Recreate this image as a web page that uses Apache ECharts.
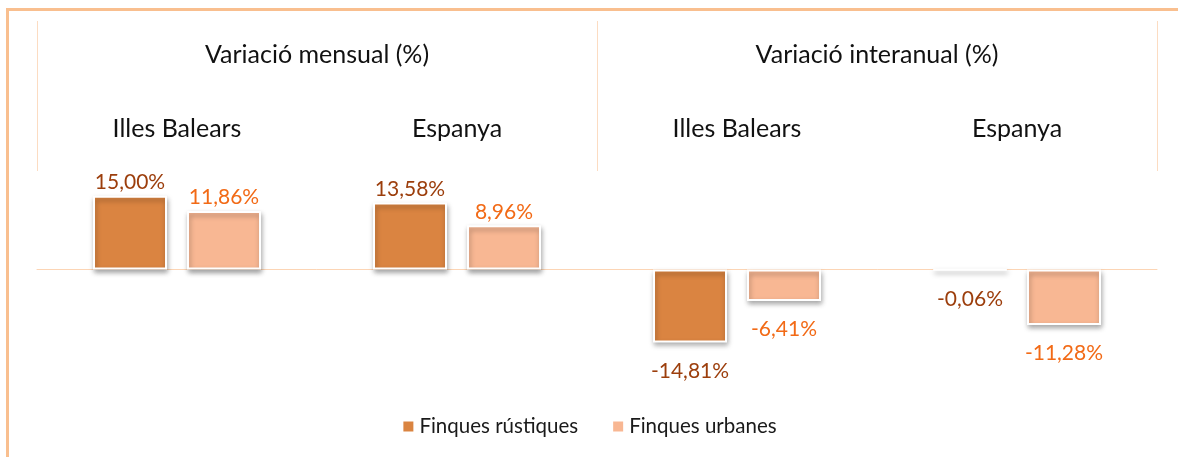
<!DOCTYPE html>
<html>
<head>
<meta charset="utf-8">
<script src="https://cdn.jsdelivr.net/npm/echarts@6/dist/echarts.min.js"></script>
<style>
  html, body { margin: 0; padding: 0; background: #fff; }
  #chart { width: 1178px; height: 457px; }
</style>
</head>
<body>
<div id="chart"></div>
<script>
  // dades
  var regions = ['Illes Balears', 'Espanya', 'Illes Balears', 'Espanya'];
  var periods = ['Variació mensual (%)', 'Variació interanual (%)'];
  var rustiques = [15.00, 13.58, -14.81, -0.06];
  var urbanes = [11.86, 8.96, -6.41, -11.28];

  var font = 'Lato, "Open Sans", sans-serif';

  function fmt(p) {
    return p.value.toFixed(2).replace('.', ',') + '%';
  }

  // etiqueta a dalt si és positiu, a baix si és negatiu
  function withLabels(values) {
    return values.map(function (v) {
      return {
        value: v,
        label: v < 0 ? { position: 'bottom', distance: 18 } : { position: 'top', distance: 3 }
      };
    });
  }

  var myChart = echarts.init(document.getElementById('chart'));
  myChart.setOption({
    backgroundColor: '#fff',
    animation: false,
    graphic: [{
      type: 'rect',
      shape: { x: 7.5, y: 9.5, width: 1400, height: 700 },
      style: { fill: 'none', stroke: '#F9BF8F', lineWidth: 3 },
      silent: true
    }],
    grid: {
      left: 37,
      right: 21,
      top: 171,
      height: 197
    },
    legend: {
      top: 411,
      left: 'center',
      itemWidth: 12,
      itemHeight: 12,
      itemGap: 33,
      icon: 'rect',
      textStyle: {
        color: '#1a1a1a',
        fontSize: 20.5,
        fontFamily: font
      },
      data: ['Finques rústiques', 'Finques urbanes']
    },
    xAxis: [{
        type: 'category',
        position: 'top',
        data: regions,
        axisLine: { show: false, onZero: false },
        axisTick: { show: false },
        axisLabel: {
          margin: 30,
          color: '#111',
          fontSize: 25,
          fontFamily: font
        }
      },
      {
        type: 'category',
        position: 'top',
        data: periods,
        axisLine: { show: false, onZero: false },
        axisTick: {
          show: true,
          length: 150,
          lineStyle: { color: '#FCDCC2', width: 1 }
        },
        axisLabel: {
          margin: 104,
          color: '#111',
          fontSize: 25,
          fontFamily: font
        }
      },
      {
        // línia del zero
        type: 'category',
        position: 'bottom',
        data: regions,
        axisLine: { show: true, onZero: true, lineStyle: { color: '#FCD5B5', width: 1 } },
        axisTick: { show: false },
        axisLabel: { show: false }
      }
    ],
    yAxis: {
      type: 'value',
      min: -20,
      max: 20,
      show: false,
      splitLine: { show: false }
    },
    series: [{
        name: 'Finques rústiques',
        type: 'bar',
        xAxisIndex: 0,
        barWidth: 74,
        barGap: '27%',
        itemStyle: {
          color: '#DA8441',
          borderColor: '#fff',
          borderWidth: 2,
          shadowColor: 'rgba(0,0,0,0.35)',
          shadowBlur: 5,
          shadowOffsetX: 1,
          shadowOffsetY: 3
        },
        label: {
          show: true,
          color: '#9C3E0C',
          fontSize: 21,
          fontFamily: font,
          formatter: fmt
        },
        data: withLabels(rustiques)
      },
      {
        name: 'Finques urbanes',
        type: 'bar',
        xAxisIndex: 0,
        barWidth: 74,
        itemStyle: {
          color: '#F8B793',
          borderColor: '#fff',
          borderWidth: 2,
          shadowColor: 'rgba(0,0,0,0.35)',
          shadowBlur: 5,
          shadowOffsetX: 1,
          shadowOffsetY: 3
        },
        label: {
          show: true,
          color: '#F26A16',
          fontSize: 21,
          fontFamily: font,
          formatter: fmt
        },
        data: withLabels(urbanes)
      }
    ]
  });
</script>
</body>
</html>
